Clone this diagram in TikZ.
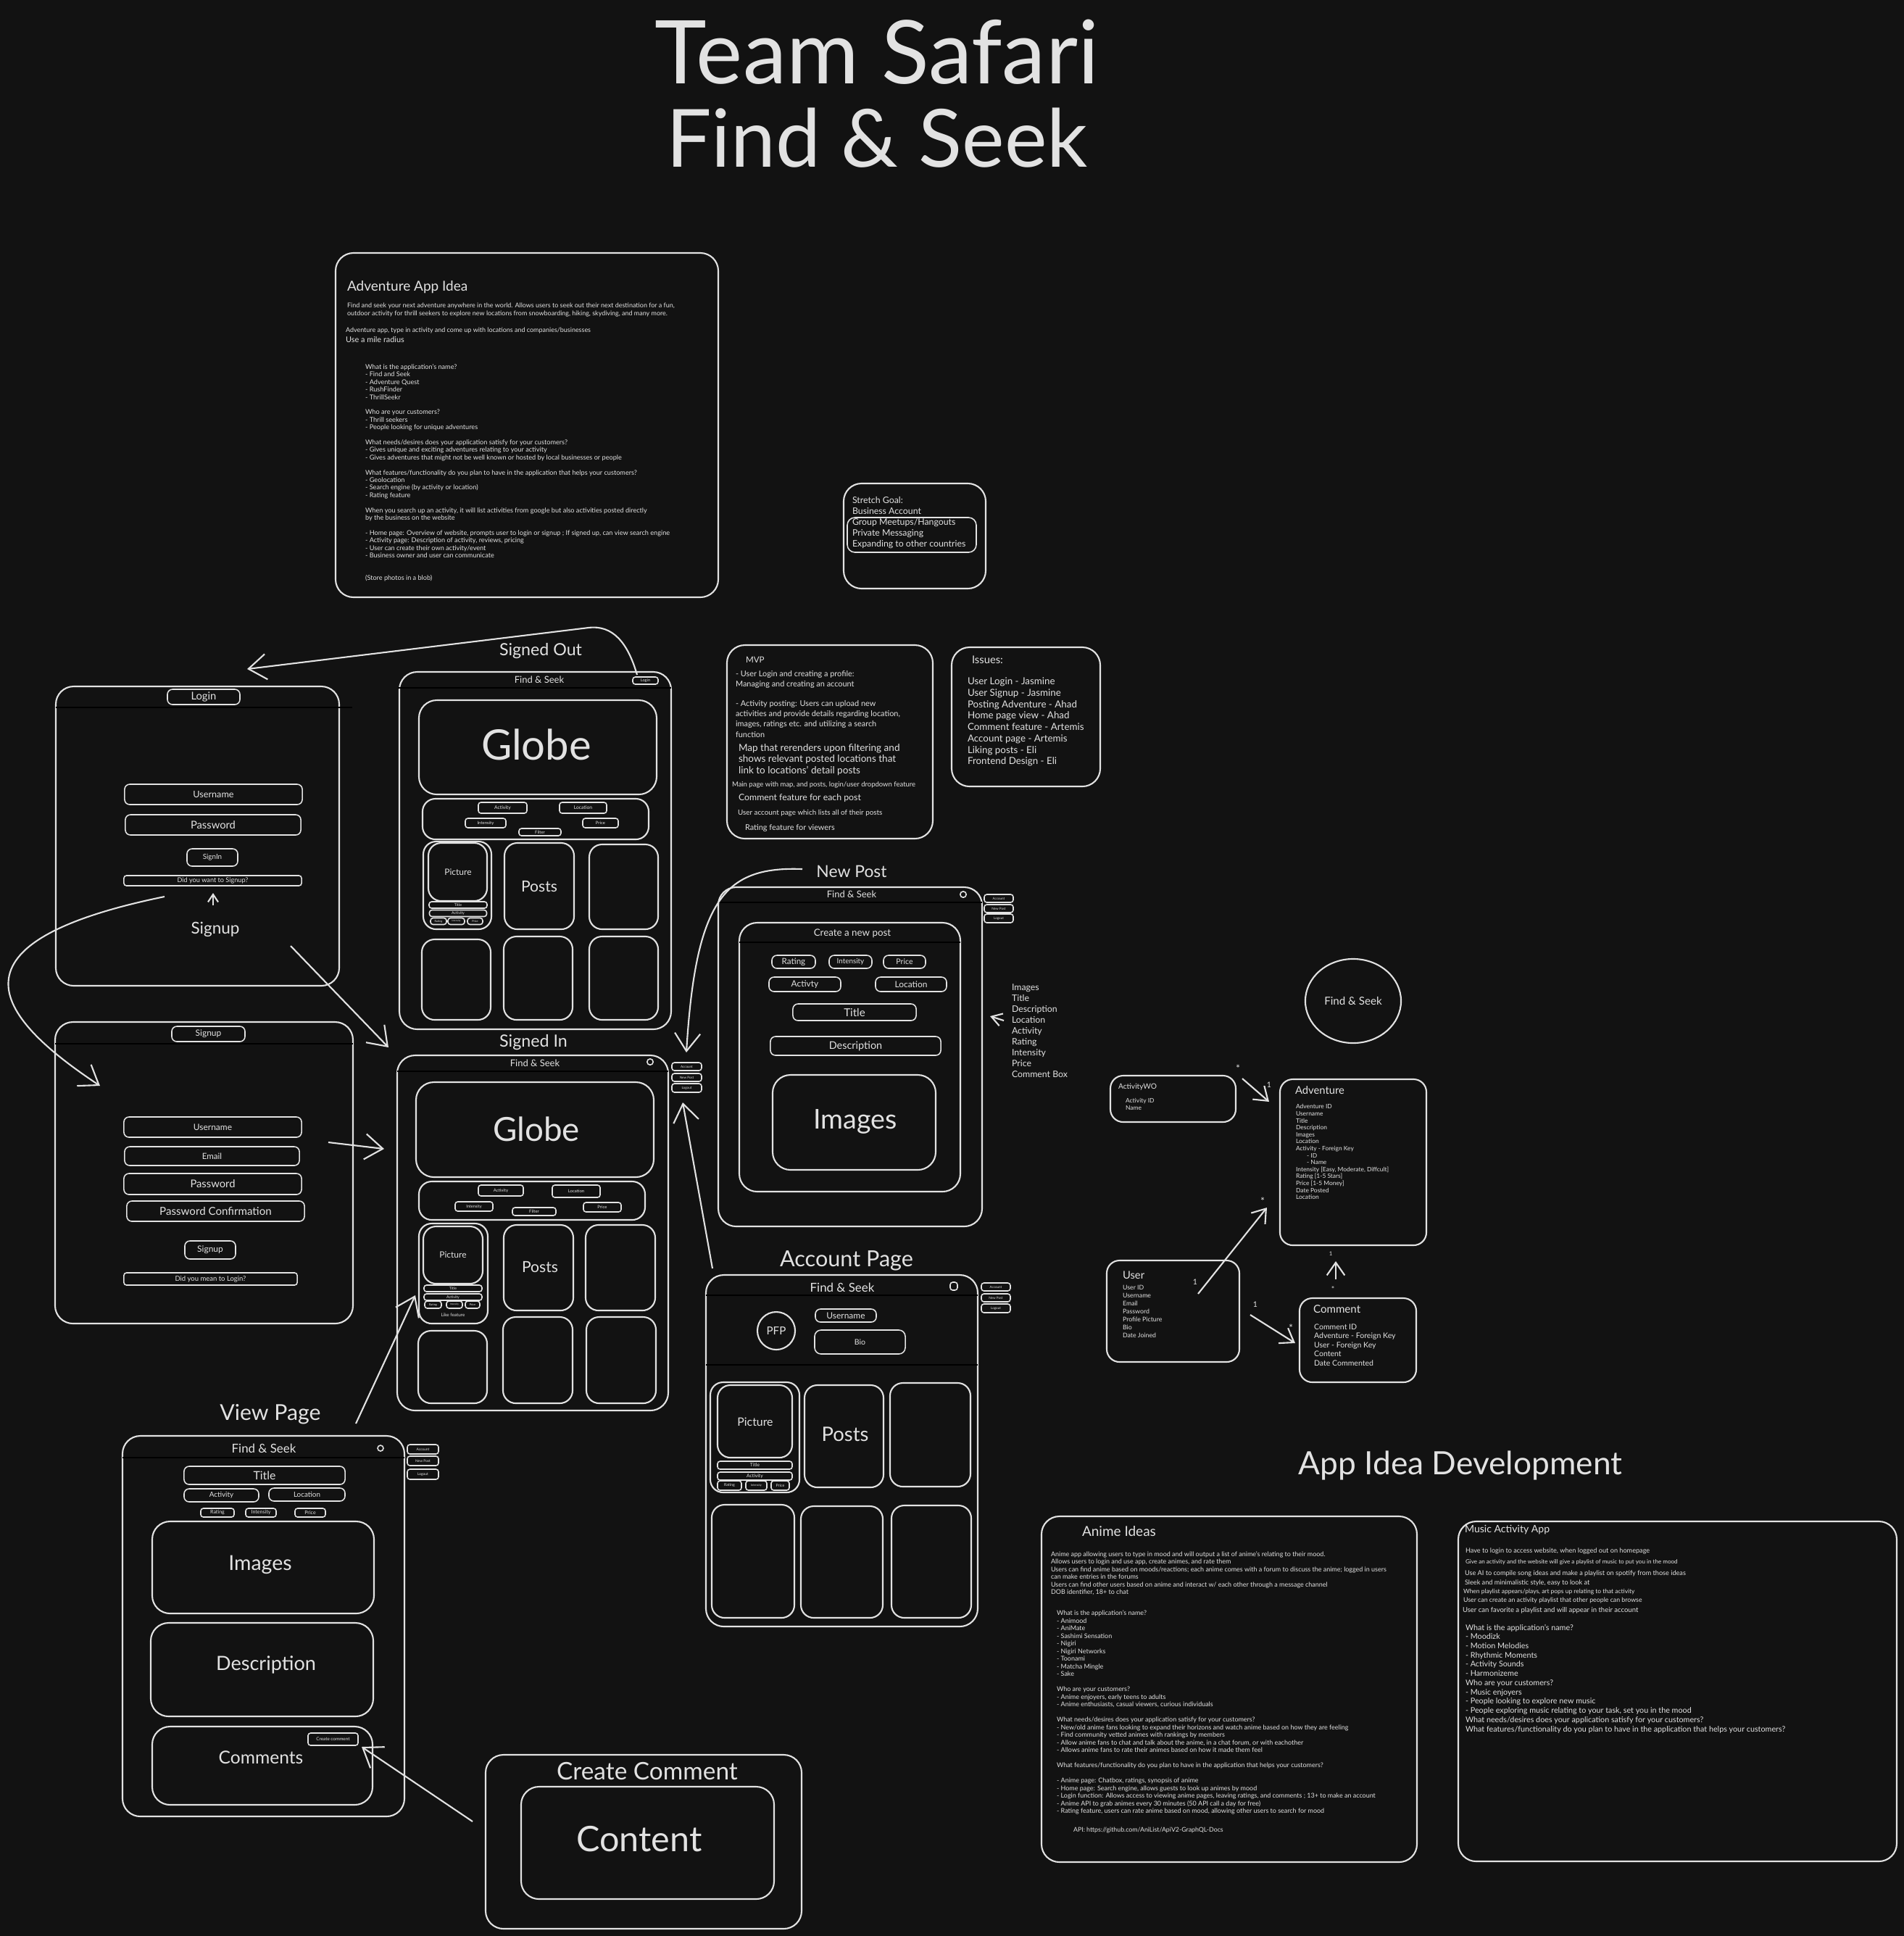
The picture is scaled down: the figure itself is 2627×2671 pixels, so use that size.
\documentclass[tikz,border=0pt]{standalone}
\usepackage{fontspec}
\setmainfont{Lato}
\usepackage{tikz}
\usetikzlibrary{arrows.meta,shapes.geometric}
\definecolor{boardbg}{RGB}{18,18,18}
\definecolor{chalk}{RGB}{226,226,226}
\newcommand{\fz}[1]{\fontsize{#1pt}{#1pt}\selectfont}
\newcommand{\fsz}[2]{\fontsize{#1pt}{#2pt}\selectfont}

\begin{document}
\begin{tikzpicture}[x=0.01cm, y=-0.01cm, line width=0.6pt,
    pane/.style={draw=chalk, rounded corners=7pt},
    card/.style={draw=chalk, rounded corners=5pt},
    lbl/.style={text=chalk, inner sep=0pt},
    notes/.style={lbl, anchor=north west, align=left},
    field/.style={draw=chalk, line width=0.45pt, rounded corners=1pt, text=chalk, inner sep=0pt},
    link/.style={draw=chalk, -{Straight Barb[length=7pt,width=10pt]}},
    erdlink/.style={draw=chalk, -{Straight Barb[length=5pt,width=7pt]}}]
  \path[use as bounding box, fill=boardbg] (0,0) rectangle (2627,2671);

  % title
  \node[lbl, font=\fz{34.5}] (teamtitle) at (1210,72) {Team Safari};
  \node[lbl, font=\fz{31.5}] (apptitle) at (1210,190) {Find \& Seek};

  % adventure app idea
  \draw[pane] (463,349) rectangle (991,824);
  \node[lbl, anchor=west, font=\fz{5.4}] (ideahead) at (478,396) {Adventure App Idea};
  \node[notes, font=\fsz{2.55}{3.0}] (ideapitch) at (478,417.3) {Find and seek your next adventure anywhere in the world. Allows users to seek out their next destination for a fun,\\ outdoor activity for thrill seekers to explore new locations from snowboarding, hiking, skydiving, and many more.};
  \node[lbl, anchor=west, font=\fz{2.55}] (ideatype) at (476,455.7) {Adventure app, type in activity and come up with locations and companies/businesses};
  \node[lbl, anchor=west, font=\fz{3.1}] (ideamile) at (476,469) {Use a mile radius};
  \node[notes, font=\fsz{2.6}{2.96}] (ideaqa) at (503,501.3) {What is the application's name?\\ - Find and Seek\\ - Adventure Quest\\ - RushFinder\\ - ThrillSeekr\\[2.96pt] Who are your customers?\\ - Thrill seekers\\ - People looking for unique adventures\\[2.96pt] What needs/desires does your application satisfy for your customers?\\ - Gives unique and exciting adventures relating to your activity\\ - Gives adventures that might not be well known or hosted by local businesses or people\\[2.96pt] What features/functionality do you plan to have in the application that helps your customers?\\ - Geolocation\\ - Search engine (by activity or location)\\ - Rating feature\\[2.96pt] When you search up an activity, it will list activities from google but also activities posted directly\\ by the business on the website\\[2.96pt] - Home page: Overview of website, prompts user to login or signup ; If signed up, can view search engine\\ - Activity page: Description of activity, reviews, pricing\\ - User can create their own activity/event\\ - Business owner and user can communicate\\[5.92pt] (Store photos in a blob)};

  % stretch goal
  \draw[pane] (1164,667) rectangle (1360,812);
  \draw[field, rounded corners=3pt] (1169,714) rectangle (1347,762);
  \node[notes, font=\fsz{3.5}{4.27}] (stretch) at (1175,684.7) {Stretch Goal:\\ Business Account\\ Group Meetups/Hangouts\\ Private Messaging\\ Expanding to other countries};

  % mvp
  \draw[pane] (1003,890) rectangle (1287,1157);
  \node[lbl, anchor=west, font=\fz{3.3}] (mvphead) at (1028,910) {MVP};
  \node[notes, font=\fsz{3.1}{3.9}] (mvplogin) at (1014,924.7) {- User Login and creating a profile:\\ Managing and creating an account};
  \node[notes, font=\fsz{3.1}{4.0}] (mvppost) at (1014,965.7) {- Activity posting: Users can upload new\\ activities and provide details regarding location,\\ images, ratings etc. and utilizing a search\\ function};
  \node[notes, font=\fsz{3.85}{4.4}] (mvpmap) at (1018,1025.3) {Map that rerenders upon filtering and\\ shows relevant posted locations that\\ link to locations' detail posts};
  \node[lbl, anchor=west, font=\fz{2.7}] (mvpmain) at (1009,1083) {Main page with map, and posts, login/user dropdown feature};
  \node[lbl, anchor=west, font=\fz{3.5}] (mvpcomment) at (1018,1101) {Comment feature for each post};
  \node[lbl, anchor=west, font=\fz{2.8}] (mvpaccount) at (1017,1122) {User account page which lists all of their posts};
  \node[lbl, anchor=west, font=\fz{3.1}] (mvprating) at (1027,1142) {Rating feature for viewers};

  % issues
  \draw[pane] (1313,893) rectangle (1518,1085);
  \node[lbl, anchor=west, font=\fz{4.2}] (issuehead) at (1340,910) {Issues:};
  \node[notes, font=\fsz{3.8}{4.47}] (issuelist) at (1334,934) {User Login - Jasmine\\ User Signup - Jasmine\\ Posting Adventure - Ahad\\ Home page view - Ahad\\ Comment feature - Artemis\\ Account page - Artemis\\ Liking posts - Eli\\ Frontend Design - Eli};

  % login page
  \draw[pane] (77,947) rectangle (468,1360);
  \draw (77,976) -- (486,976);
  \node[field, rounded corners=2pt, minimum width=1.00cm, minimum height=0.21cm, font=\fz{4.2}] (logintab) at (281,961.5) {Login};
  \node[field, rounded corners=2pt, minimum width=2.45cm, minimum height=0.28cm, font=\fz{3.6}] (loginuser) at (294.5,1096) {Username};
  \node[field, rounded corners=2pt, minimum width=2.42cm, minimum height=0.28cm, font=\fz{4.2}] (loginpass) at (294,1138) {Password};
  \node[field, rounded corners=2pt, minimum width=0.70cm, minimum height=0.24cm, font=\fz{2.8}] (loginbtn) at (293,1183) {SignIn};
  \node[field, minimum width=2.45cm, minimum height=0.14cm, font=\fz{2.6}] (loginask) at (293.5,1215) {Did you want to Signup?};
  \node[lbl, font=\fz{6.4}] (loginsignup) at (297,1282) {Signup};

  % signup page
  \draw[pane] (76,1410) rectangle (487,1826);
  \draw (76,1440) -- (487,1440);
  \node[field, rounded corners=2pt, minimum width=1.01cm, minimum height=0.21cm, font=\fz{3.4}] (signuptab) at (287.5,1426.5) {Signup};
  \node[field, rounded corners=2pt, minimum width=2.45cm, minimum height=0.28cm, font=\fz{3.4}] (signupuser) at (293.5,1555) {Username};
  \node[field, rounded corners=2pt, minimum width=2.41cm, minimum height=0.26cm, font=\fz{3.3}] (signupmail) at (292.5,1595) {Email};
  \node[field, rounded corners=2pt, minimum width=2.45cm, minimum height=0.29cm, font=\fz{4.2}] (signuppass) at (293.5,1633.5) {Password};
  \node[field, rounded corners=2pt, minimum width=2.45cm, minimum height=0.28cm, font=\fz{4.3}] (signupconf) at (297.5,1671) {Password Confirmation};
  \node[field, rounded corners=2pt, minimum width=0.70cm, minimum height=0.25cm, font=\fz{3.4}] (signupbtn) at (290,1724.5) {Signup};
  \node[field, minimum width=2.39cm, minimum height=0.17cm, font=\fz{2.7}] (signupask) at (290.5,1764.5) {Did you mean to Login?};

  % signed out page
  \node[lbl, font=\fz{6.6}] (solabel) at (746,898) {Signed Out};
  \draw[pane] (551,927) rectangle (926,1420);
  \draw (549,949) -- (926,949);
  \node[lbl, font=\fz{3.7}] (sohead) at (744,938) {Find \& Seek};
  \node[field, minimum width=0.35cm, minimum height=0.10cm, font=\fz{1.6}] (sologin) at (890.5,939) {Login};
  \draw[pane] (578,966) rectangle (906,1096);
  \node[lbl, font=\fz{16.5}] (soglobe) at (740,1027) {Globe};
  \draw[card] (583,1102) rectangle (895,1158);
  \node[field, minimum width=0.67cm, minimum height=0.15cm, font=\fz{1.9}] (soact) at (693.5,1114.5) {Activity};
  \node[field, minimum width=0.65cm, minimum height=0.15cm, font=\fz{1.9}] (soloc) at (804.5,1114.5) {Location};
  \node[field, minimum width=0.56cm, minimum height=0.13cm, font=\fz{1.7}] (soint) at (670,1135.5) {Intensity};
  \node[field, minimum width=0.49cm, minimum height=0.13cm, font=\fz{1.7}] (soprice) at (828.5,1135.5) {Price};
  \node[field, minimum width=0.58cm, minimum height=0.10cm, font=\fz{1.7}] (sofilter) at (745,1148) {Filter};
  \draw[card] (584,1161) rectangle (678,1282);
  \draw[card] (591,1163) rectangle (672,1243);
  \node[lbl, font=\fz{3.4}] (sopic) at (632,1203) {Picture};
  \node[field, minimum width=0.80cm, minimum height=0.09cm, font=\fz{1.5}] (sotitle) at (632,1248.5) {Title};
  \node[field, minimum width=0.79cm, minimum height=0.09cm, font=\fz{1.5}] (socardact) at (632,1260) {Activity};
  \node[field, minimum width=0.22cm, minimum height=0.09cm, font=\fz{1.1}] (sorate) at (605,1271) {Rating};
  \node[field, minimum width=0.23cm, minimum height=0.09cm, font=\fz{0.9}] (socardint) at (629.5,1271) {Intensity};
  \node[field, minimum width=0.21cm, minimum height=0.09cm, font=\fz{1.1}] (socardprice) at (655.5,1271) {Price};
  \foreach \xa/\ya/\xb/\yb in {696/1163/792/1282, 813/1165/908/1282, 582/1296/677/1407, 695/1292/790/1407, 813/1292/908/1407}
    \draw[card] (\xa,\ya) rectangle (\xb,\yb);
  \node[lbl, font=\fz{6}] (soposts) at (744,1223) {Posts};

  % signed in page
  \node[lbl, font=\fz{6.6}] (silabel) at (736,1438) {Signed In};
  \draw[pane] (548,1456) rectangle (922,1946);
  \draw (548,1478) -- (922,1478);
  \node[lbl, font=\fz{3.7}] (sihead) at (738,1467) {Find \& Seek};
  \draw[line width=0.45pt, draw=chalk, rounded corners=1pt] (893,1461) rectangle (901,1469);
  \node[field, minimum width=0.41cm, minimum height=0.11cm, font=\fz{1.3}] (siacc) at (947.5,1471.5) {Account};
  \node[field, minimum width=0.41cm, minimum height=0.11cm, font=\fz{1.3}] (sinew) at (947.5,1486.5) {New Post};
  \node[field, minimum width=0.41cm, minimum height=0.12cm, font=\fz{1.3}] (siout) at (947.5,1501) {Logout};
  \draw[pane] (574,1493) rectangle (902,1624);
  \node[lbl, font=\fz{13}] (siglobe) at (740,1558) {Globe};
  \draw[card] (578,1630) rectangle (890,1683);
  \node[field, minimum width=0.62cm, minimum height=0.15cm, font=\fz{1.7}] (siact) at (691,1642.5) {Activity};
  \node[field, minimum width=0.66cm, minimum height=0.17cm, font=\fz{1.7}] (siloc) at (795,1643.5) {Location};
  \node[field, minimum width=0.52cm, minimum height=0.13cm, font=\fz{1.6}] (siint) at (654,1664.5) {Intensity};
  \node[field, minimum width=0.60cm, minimum height=0.11cm, font=\fz{1.7}] (sifilter) at (737,1671.5) {Filter};
  \node[field, minimum width=0.52cm, minimum height=0.13cm, font=\fz{1.7}] (siprice) at (831,1665.5) {Price};
  \draw[card] (578,1688) rectangle (673,1826);
  \draw[card] (584,1692) rectangle (666,1771);
  \node[lbl, font=\fz{3.4}] (sipic) at (625,1731) {Picture};
  \node[field, minimum width=0.80cm, minimum height=0.09cm, font=\fz{1.5}] (sititle) at (625,1777.5) {Title};
  \node[field, minimum width=0.80cm, minimum height=0.09cm, font=\fz{1.5}] (sicardact) at (625,1789.5) {Activity};
  \node[field, minimum width=0.23cm, minimum height=0.10cm, font=\fz{1.1}] (sirate) at (597.5,1800) {Rating};
  \node[field, minimum width=0.22cm, minimum height=0.10cm, font=\fz{0.9}] (sicardint) at (627,1800) {Intensity};
  \node[field, minimum width=0.20cm, minimum height=0.10cm, font=\fz{1.1}] (sicardprice) at (652,1800) {Price};
  \node[lbl, font=\fz{1.8}] (silike) at (625,1814) {Like feature};
  \foreach \xa/\ya/\xb/\yb in {695/1690/791/1808, 808/1690/904/1808, 577/1836/672/1936, 694/1817/790/1936, 809/1817/905/1936}
    \draw[card] (\xa,\ya) rectangle (\xb,\yb);
  \node[lbl, font=\fz{6}] (siposts) at (745,1748) {Posts};

  % new post page
  \node[lbl, font=\fz{6.5}] (nplabel) at (1175,1202) {New Post};
  \draw[pane] (991,1224) rectangle (1355,1692);
  \draw (991,1245) -- (1355,1245);
  \node[lbl, font=\fz{3.7}] (nphead) at (1175,1234) {Find \& Seek};
  \draw[line width=0.45pt, draw=chalk, rounded corners=1pt] (1325,1230) rectangle (1333,1238);
  \node[field, minimum width=0.40cm, minimum height=0.11cm, font=\fz{1.3}] (npacc) at (1378,1239.5) {Account};
  \node[field, minimum width=0.40cm, minimum height=0.11cm, font=\fz{1.3}] (npnew) at (1378,1253.5) {New Post};
  \node[field, minimum width=0.40cm, minimum height=0.12cm, font=\fz{1.3}] (npout) at (1378,1267) {Logout};
  \draw[pane] (1020,1273) rectangle (1325,1644);
  \draw (1020,1300) -- (1325,1300);
  \node[lbl, font=\fz{3.8}] (npform) at (1176,1288) {Create a new post};
  \node[field, rounded corners=2pt, minimum width=0.60cm, minimum height=0.18cm, font=\fz{3.3}] (nprate) at (1095,1327) {Rating};
  \node[field, rounded corners=2pt, minimum width=0.59cm, minimum height=0.18cm, font=\fz{2.8}] (npint) at (1173.5,1327) {Intensity};
  \node[field, rounded corners=2pt, minimum width=0.58cm, minimum height=0.18cm, font=\fz{3.0}] (npprice) at (1248,1327) {Price};
  \node[field, rounded corners=2pt, minimum width=0.99cm, minimum height=0.20cm, font=\fz{3.4}] (npact) at (1110.5,1358) {Activty};
  \node[field, rounded corners=2pt, minimum width=0.98cm, minimum height=0.20cm, font=\fz{3.4}] (nploc) at (1257,1358) {Location};
  \node[field, rounded corners=2pt, minimum width=1.70cm, minimum height=0.23cm, font=\fz{4.3}] (nptitle) at (1179,1396.5) {Title};
  \node[field, rounded corners=2pt, minimum width=2.35cm, minimum height=0.26cm, font=\fz{4.1}] (npdesc) at (1180.5,1443) {Description};
  \draw[pane] (1066,1483) rectangle (1291,1614);
  \node[lbl, font=\fz{10.7}] (npimages) at (1180,1547) {Images};
  \node[notes, font=\fsz{3.5}{4.27}] (npfields) at (1395,1356.8) {Images\\ Title\\ Description\\ Location\\ Activity\\ Rating\\ Intensity\\ Price\\ Comment Box};

  % account page
  \node[lbl, font=\fz{8.7}] (aplabel) at (1168,1739) {Account Page};
  \draw[pane] (974,1759) rectangle (1349,2244);
  \draw (974,1787) -- (1349,1787);
  \draw (974,1883) -- (1349,1883);
  \node[lbl, font=\fz{4.8}] (aphead) at (1162,1776) {Find \& Seek};
  \draw[line width=0.45pt, draw=chalk, rounded corners=1pt] (1311,1769) rectangle (1321,1780);
  \node[field, minimum width=0.40cm, minimum height=0.11cm, font=\fz{1.3}] (apacc) at (1374,1775.5) {Account};
  \node[field, minimum width=0.40cm, minimum height=0.11cm, font=\fz{1.3}] (apnew) at (1374,1790.5) {New Post};
  \node[field, minimum width=0.40cm, minimum height=0.12cm, font=\fz{1.3}] (apout) at (1374,1805) {Logout};
  \node[draw=chalk, circle, minimum size=0.52cm, text=chalk, inner sep=0pt, font=\fz{4.3}] (appfp) at (1071,1836) {PFP};
  \node[field, rounded corners=2pt, minimum width=0.84cm, minimum height=0.18cm, font=\fz{3.4}] (apuser) at (1167,1815) {Username};
  \node[field, rounded corners=2.5pt, minimum width=1.25cm, minimum height=0.33cm, font=\fz{3.0}] (apbio) at (1186.5,1851.5) {Bio};
  \draw[card] (980,1907) rectangle (1103,2059);
  \draw[card] (990,1911) rectangle (1093,2011);
  \node[lbl, font=\fz{4.5}] (appic) at (1042,1962) {Picture};
  \node[field, minimum width=1.03cm, minimum height=0.11cm, font=\fz{1.9}] (aptitle) at (1041.5,2021.5) {Title};
  \node[field, minimum width=1.03cm, minimum height=0.11cm, font=\fz{1.9}] (apcardact) at (1041.5,2036.5) {Activity};
  \node[field, minimum width=0.33cm, minimum height=0.13cm, font=\fz{1.5}] (aprate) at (1006.5,2049.5) {Rating};
  \node[field, minimum width=0.29cm, minimum height=0.13cm, font=\fz{1.1}] (apcardint) at (1043.5,2049.5) {Intensity};
  \node[field, minimum width=0.25cm, minimum height=0.13cm, font=\fz{1.5}] (apcardprice) at (1076.5,2049.5) {Price};
  \foreach \xa/\ya/\xb/\yb in {1110/1911/1219/2052, 1228/1908/1339/2051, 982/2076/1096/2232, 1105/2078/1218/2232, 1230/2077/1340/2232}
    \draw[card] (\xa,\ya) rectangle (\xb,\yb);
  \node[lbl, font=\fz{7.8}] (apposts) at (1166,1979) {Posts};

  % view page
  \node[lbl, font=\fz{8.6}] (vplabel) at (373,1951) {View Page};
  \draw[pane] (169,1981) rectangle (558,2506);
  \draw (169,2011) -- (558,2011);
  \node[lbl, font=\fz{4.8}] (vphead) at (364,1998) {Find \& Seek};
  \draw[line width=0.45pt, draw=chalk] (525,1998) circle [radius=4];
  \node[field, minimum width=0.43cm, minimum height=0.13cm, font=\fz{1.4}] (vpacc) at (583.5,1999.5) {Account};
  \node[field, minimum width=0.43cm, minimum height=0.13cm, font=\fz{1.4}] (vpnew) at (583.5,2015.5) {New Post};
  \node[field, minimum width=0.43cm, minimum height=0.14cm, font=\fz{1.4}] (vpout) at (583.5,2034) {Logout};
  \node[field, rounded corners=2pt, minimum width=2.22cm, minimum height=0.25cm, font=\fz{4.5}] (vptitle) at (365,2035.5) {Title};
  \node[field, rounded corners=2pt, minimum width=1.03cm, minimum height=0.18cm, font=\fz{2.8}] (vpact) at (305.5,2063) {Activity};
  \node[field, rounded corners=2pt, minimum width=1.05cm, minimum height=0.18cm, font=\fz{2.8}] (vploc) at (423.5,2062) {Location};
  \node[field, minimum width=0.46cm, minimum height=0.12cm, font=\fz{2.0}] (vprate) at (300,2087) {Rating};
  \node[field, minimum width=0.42cm, minimum height=0.12cm, font=\fz{2.0}] (vpint) at (360,2087) {Intensity};
  \node[field, minimum width=0.42cm, minimum height=0.12cm, font=\fz{2.0}] (vpprice) at (428,2087) {Price};
  \draw[pane] (210,2099) rectangle (516,2226);
  \node[lbl, font=\fz{8.1}] (vpimages) at (359,2159) {Images};
  \draw[pane] (208,2239) rectangle (515,2368);
  \node[lbl, font=\fz{7.7}] (vpdesc) at (367,2297) {Description};
  \draw[pane] (210,2382) rectangle (514,2490);
  \node[lbl, font=\fz{7.0}] (vpcomments) at (360,2425) {Comments};
  \node[field, minimum width=0.69cm, minimum height=0.17cm, font=\fz{1.8}] (vpcreate) at (459.5,2399.5) {Create comment};

  % create comment
  \draw[pane] (670,2421) rectangle (1106,2661);
  \node[lbl, font=\fz{9.5}] (cclabel) at (893,2443) {Create Comment};
  \draw[pane] (719,2465) rectangle (1068,2620);
  \node[lbl, font=\fz{13.8}] (cccontent) at (882,2537) {Content};

  % connectors between pages
  \coordinate (soTail) at (879,931);
  \coordinate (loginHead) at (341,923);
  \coordinate (lgTail) at (227,1237);
  \coordinate (suHead) at (138,1498);
  \coordinate (lgTail2) at (401,1305);
  \coordinate (siHead1) at (536,1445);
  \coordinate (suTail) at (453,1576);
  \coordinate (siHead2) at (530,1585);
  \coordinate (upTail) at (294,1249);
  \coordinate (upHead) at (294,1232);
  \coordinate (vpTail) at (491,1964);
  \coordinate (vpHead) at (573,1787);
  \coordinate (apTail) at (983,1750);
  \coordinate (apHead) at (942,1521);
  \coordinate (npTail) at (1107,1199);
  \coordinate (npHead) at (947,1452);
  \coordinate (flTail) at (1385,1408);
  \coordinate (flHead) at (1366,1402);
  \coordinate (ccTail) at (652,2513);
  \coordinate (ccHead) at (499,2410);
  \draw[link] (soTail) .. controls (866,886) and (845,862) .. (812,866) -- (loginHead);
  \draw[link] (lgTail) .. controls (-80,1300) and (-10,1400) .. (suHead);
  \draw[link] (lgTail2) -- (siHead1);
  \draw[link] (suTail) -- (siHead2);
  \draw[draw=chalk, -{Straight Barb[length=3pt,width=4pt]}] (upTail) -- (upHead);
  \draw[link] (vpTail) -- (vpHead);
  \draw[link] (apTail) -- (apHead);
  \draw[link] (npTail) .. controls (1000,1195) and (960,1240) .. (npHead);
  \draw[draw=chalk, -{Straight Barb[length=4pt,width=5pt]}] (flTail) -- (flHead);
  \draw[link] (ccTail) -- (ccHead);

  % database sketch
  \node[draw=chalk, ellipse, minimum width=1.32cm, minimum height=1.16cm, text=chalk, inner sep=0pt, font=\fz{4.3}] (erdlogo) at (1867,1381) {Find \& Seek};
  \draw[card] (1532,1484) rectangle (1705,1548);
  \node[lbl, anchor=west, font=\fz{2.9}] (awohead) at (1542,1500) {ActivityWO};
  \node[notes, font=\fsz{2.4}{3.1}] (awolist) at (1552,1513.8) {Activity ID\\ Name};
  \draw[card] (1766,1489) rectangle (1968,1718);
  \node[lbl, anchor=west, font=\fz{4.2}] (advhead) at (1786,1504.5) {Adventure};
  \node[notes, font=\fsz{2.4}{2.73}] (advlist) at (1787,1522.6) {Adventure ID\\ Username\\ Title\\ Description\\ Images\\ Location\\ Activity - Foreign Key\\ \hspace*{4.3pt}- ID\\ \hspace*{4.3pt}- Name\\ Intensity [Easy, Moderate, Diffcult]\\ Rating [1-5 Stars]\\ Price [1-5 Money]\\ Date Posted\\ Location};
  \draw[card] (1527,1739) rectangle (1710,1879);
  \node[lbl, anchor=west, font=\fz{4.2}] (usrhead) at (1548,1759) {User};
  \node[notes, font=\fsz{2.5}{3.1}] (usrlist) at (1548,1772.6) {User ID\\ Username\\ Email\\ Password\\ Profile Picture\\ Bio\\ Date Joined};
  \draw[card] (1793,1791) rectangle (1954,1907);
  \node[lbl, anchor=west, font=\fz{4.3}] (cmthead) at (1811,1806) {Comment};
  \node[notes, font=\fsz{3.0}{3.56}] (cmtlist) at (1812,1825.7) {Comment ID\\ Adventure - Foreign Key\\ User - Foreign Key\\ Content\\ Date Commented};
  \coordinate (awoTail) at (1714,1488);
  \coordinate (awoHead) at (1751,1520);
  \coordinate (usrTail) at (1653,1785);
  \coordinate (usrHead) at (1748,1666);
  \coordinate (ucTail) at (1725,1814);
  \coordinate (ucHead) at (1787,1853);
  \coordinate (cmtTail) at (1843,1765);
  \coordinate (cmtHead) at (1843,1740);
  \draw[erdlink] (awoTail) -- (awoHead);
  \draw[erdlink] (usrTail) -- (usrHead);
  \draw[erdlink] (ucTail) -- (ucHead);
  \draw[erdlink] (cmtTail) -- (cmtHead);
  \node[lbl, font=\fz{4}] (m1) at (1708,1474) {*};
  \node[lbl, font=\fz{3}] (m2) at (1751,1497) {1};
  \node[lbl, font=\fz{4}] (m3) at (1742,1657) {*};
  \node[lbl, font=\fz{3}] (m4) at (1649,1769) {1};
  \node[lbl, font=\fz{3}] (m5) at (1732,1800) {1};
  \node[lbl, font=\fz{4}] (m6) at (1781,1832) {*};
  \node[lbl, font=\fz{2.2}] (m7) at (1836,1730) {1};
  \node[lbl, font=\fz{3}] (m8) at (1839,1778) {*};

  % other ideas
  \node[lbl, font=\fz{12.6}] (ideadev) at (2015,2022) {App Idea Development};
  \draw[pane] (1437,2092) rectangle (1955,2569);
  \node[lbl, anchor=west, font=\fz{5.4}] (animehead) at (1492,2113) {Anime Ideas};
  \node[notes, font=\fsz{2.55}{2.97}] (animepitch) at (1449,2139.6) {Anime app allowing users to type in mood and will output a list of anime's relating to their mood.\\ Allows users to login and use app, create animes, and rate them\\ Users can find anime based on moods/reactions; each anime comes with a forum to discuss the anime; logged in users\\ can make entries in the forums\\ Users can find other users based on anime and interact w/ each other through a message channel\\ DOB identifier, 18+ to chat};
  \node[notes, font=\fsz{2.55}{2.99}] (animeqa) at (1457,2220.6) {What is the application's name?\\ - Animood\\ - AniMate\\ - Sashimi Sensation\\ - Nigiri\\ - Nigiri Networks\\ - Toonami\\ - Matcha Mingle\\ - Sake\\[2.99pt] Who are your customers?\\ - Anime enjoyers, early teens to adults\\ - Anime enthusiasts, casual viewers, curious individuals\\[2.99pt] What needs/desires does your application satisfy for your customers?\\ - New/old anime fans looking to expand their horizons and watch anime based on how they are feeling\\ - Find community vetted animes with rankings by members\\ - Allow anime fans to chat and talk about the anime, in a chat forum, or with eachother\\ - Allows anime fans to rate their animes based on how it made them feel\\[2.99pt] What features/functionality do you plan to have in the application that helps your customers?\\[2.99pt] - Anime page: Chatbox, ratings, synopsis of anime\\ - Home page: Search engine, allows guests to look up animes by mood\\ - Login function: Allows access to viewing anime pages, leaving ratings, and comments ; 13+ to make an account\\ - Anime API to grab animes every 30 minutes (50 API call a day for free)\\ - Rating feature, users can rate anime based on mood, allowing other users to search for mood};
  \node[lbl, anchor=west, font=\fz{2.5}] (animeapi) at (1480,2525) {API: https://github.com/AniList/ApiV2-GraphQL-Docs};

  \draw[pane] (2012,2099) rectangle (2617,2568);
  \node[lbl, anchor=west, font=\fz{4.0}] (musichead) at (2020,2111) {Music Activity App};
  \node[lbl, anchor=west, font=\fz{2.6}] (music1) at (2021,2140) {Have to login to access website, when logged out on homepage};
  \node[lbl, anchor=west, font=\fz{2.3}] (music2) at (2021,2155) {Give an activity and the website will give a playlist of music to put you in the mood};
  \node[lbl, anchor=west, font=\fz{2.6}] (music3) at (2020,2171) {Use AI to compile song ideas and make a playlist on spotify from those ideas};
  \node[lbl, anchor=west, font=\fz{2.6}] (music4) at (2020,2184) {Sleek and minimalistic style, easy to look at};
  \node[lbl, anchor=west, font=\fz{2.4}] (music5) at (2018,2196) {When playlist appears/plays, art pops up relating to that activity};
  \node[lbl, anchor=west, font=\fz{2.5}] (music6) at (2018,2208) {User can create an activity playlist that other people can browse};
  \node[lbl, anchor=west, font=\fz{2.7}] (music7) at (2017,2222) {User can favorite a playlist and will appear in their account};
  \node[notes, font=\fsz{3.06}{3.62}] (musicqa) at (2021,2239.7) {What is the application's name?\\ - Moodizk\\ - Motion Melodies\\ - Rhythmic Moments\\ - Activity Sounds\\ - Harmonizeme\\ Who are your customers?\\ - Music enjoyers\\ - People looking to explore new music\\ - People exploring music relating to your task, set you in the mood\\ What needs/desires does your application satisfy for your customers?\\ What features/functionality do you plan to have in the application that helps your customers?};
\end{tikzpicture}
\end{document}
